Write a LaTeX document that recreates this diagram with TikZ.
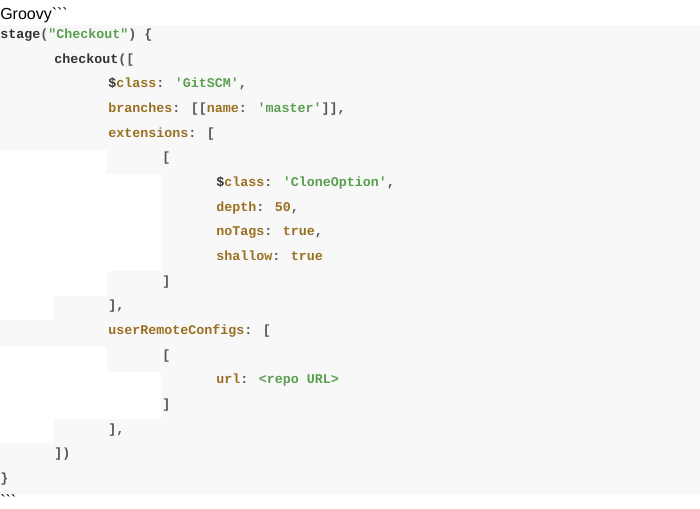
\documentclass[tikz,border=0pt]{standalone}
\usepackage{fontspec}
\newfontfamily\codefont{Liberation Mono}
\newfontfamily\headfont{Liberation Sans}
\definecolor{bgcode}{HTML}{F8F8F8}
\definecolor{keybrown}{HTML}{9A6F22}
\definecolor{strgreen}{HTML}{5A9F4F}
\definecolor{puncgray}{HTML}{555555}
\definecolor{identdark}{HTML}{333333}
\newcommand{\codekey}[1]{\textcolor{keybrown}{#1}}
\newcommand{\codestr}[1]{\textcolor{strgreen}{#1}}
\newcommand{\codepun}[1]{\textcolor{puncgray}{#1}}
\newcommand{\codeid}[1]{\textcolor{identdark}{#1}}
\begin{document}
\begin{tikzpicture}[x=0.75pt,y=-0.75pt,
  codeline/.style={anchor=base west,inner sep=0pt,font=\codefont\bfseries\fontsize{10pt}{12pt}\selectfont,text=puncgray},
  headline/.style={anchor=base west,inner sep=0pt,font=\headfont\fontsize{12pt}{14pt}\selectfont,text=black}]
\useasboundingbox (0,0) rectangle (700,509);
% code background
\fill[bgcode] (0,25) rectangle (700,494);
\fill[white] (0,150) rectangle (107,174);
\fill[white] (0,174) rectangle (161,271);
\fill[white] (0,271) rectangle (107,296);
\fill[white] (0,296) rectangle (54,320);
\fill[white] (0,347) rectangle (107,372);
\fill[white] (0,372) rectangle (161,419);
\fill[white] (0,419) rectangle (54,443);
% header and footer
\node[headline] (head) at (0,20) {Groovy```};
\node[headline] (foot) at (0,506.5) {```};
% code lines
\node[codeline] (l0) at (0,38.5) {\codeid{stage}(\codestr{"Checkout"}) \{};
\node[codeline] (l1) at (54,63.2) {\codeid{checkout}([};
\node[codeline] (l2) at (108,87.8) {\codeid{\$}\codekey{class}: \codestr{'GitSCM'},};
\node[codeline] (l3) at (108,112.5) {\codekey{branches}: [[\codekey{name}: \codestr{'master'}]],};
\node[codeline] (l4) at (108,137.2) {\codekey{extensions}: [};
\node[codeline] (l5) at (162,161.8) {[};
\node[codeline] (l6) at (216,186.5) {\codeid{\$}\codekey{class}: \codestr{'CloneOption'},};
\node[codeline] (l7) at (216,211.2) {\codekey{depth}: \codekey{50},};
\node[codeline] (l8) at (216,235.9) {\codekey{noTags}: \codekey{true},};
\node[codeline] (l9) at (216,260.5) {\codekey{shallow}: \codekey{true}};
\node[codeline] (l10) at (162,285.2) {]};
\node[codeline] (l11) at (108,309.9) {],};
\node[codeline] (l12) at (108,334.5) {\codekey{userRemoteConfigs}: [};
\node[codeline] (l13) at (162,359.2) {[};
\node[codeline] (l14) at (216,383.9) {\codekey{url}: \codestr{<repo URL>}};
\node[codeline] (l15) at (162,408.6) {]};
\node[codeline] (l16) at (108,433.2) {],};
\node[codeline] (l17) at (54,457.9) {])};
\node[codeline] (l18) at (0,482.6) {\}};
\end{tikzpicture}
\end{document}
